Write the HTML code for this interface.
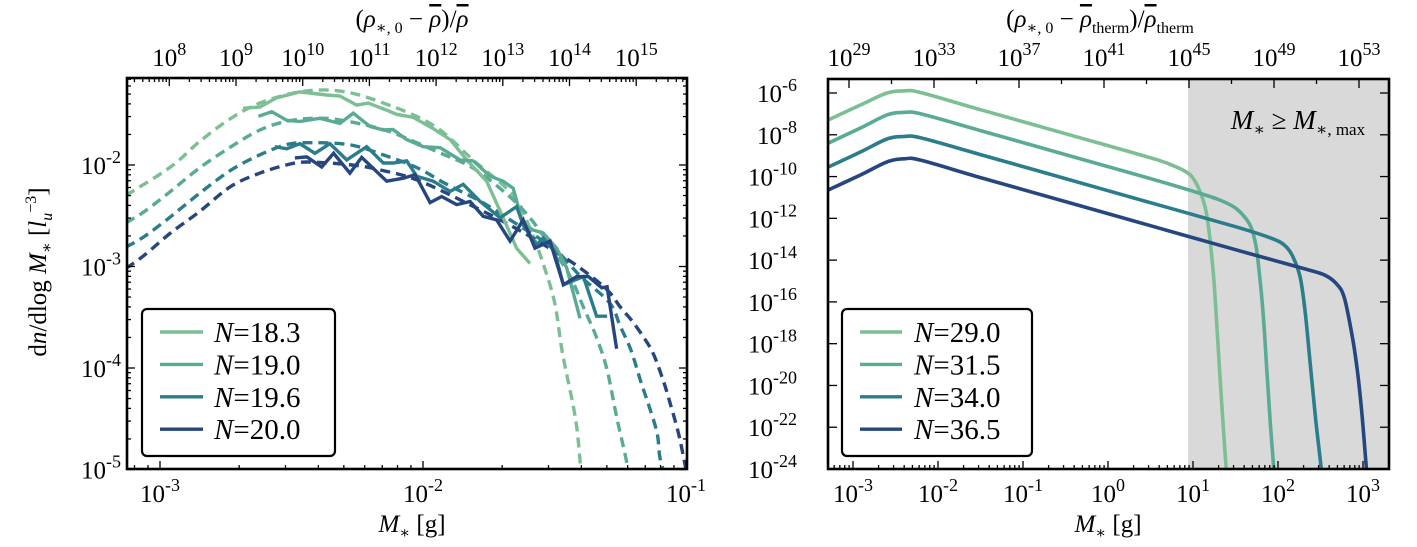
<!DOCTYPE html>
<html><head><meta charset="utf-8"><style>
html,body{margin:0;padding:0;background:#fff;}
svg{display:block;font-family:"Liberation Serif","DejaVu Serif",serif;}
</style></head><body>
<svg id="fig" width="1417" height="547" viewBox="0 0 1417 547" xmlns="http://www.w3.org/2000/svg">
<rect x="1188" y="79" width="201" height="390" fill="#d9d9d9"/>
<g id="left"></g>
<g id="right"></g>
<text x="1298" y="129" font-size="27" text-anchor="middle"><tspan font-style="italic">M</tspan><tspan font-size="17" dy="6">∗</tspan><tspan dy="-6"> ≥ </tspan><tspan font-style="italic">M</tspan><tspan font-size="17" dy="6">∗, max</tspan></text>
<text x="412" y="27" font-size="25" text-anchor="middle">(<tspan font-style="italic">ρ</tspan><tspan font-size="16" dy="6">∗, 0</tspan><tspan dy="-6"> − </tspan><tspan font-style="italic" text-decoration="overline">ρ</tspan>)/<tspan font-style="italic" text-decoration="overline">ρ</tspan></text>
<text x="1100" y="27" font-size="25" text-anchor="middle">(<tspan font-style="italic">ρ</tspan><tspan font-size="16" dy="6">∗, 0</tspan><tspan dy="-6"> − </tspan><tspan font-style="italic" text-decoration="overline">ρ</tspan><tspan font-size="16" dy="6">therm</tspan><tspan dy="-6">)/</tspan><tspan font-style="italic" text-decoration="overline">ρ</tspan><tspan font-size="16" dy="6">therm</tspan></text>
<text x="412" y="532" font-size="25" text-anchor="middle"><tspan font-style="italic">M</tspan><tspan font-size="16" dy="6">∗</tspan><tspan dy="-6"> [g]</tspan></text>
<text x="1108" y="532" font-size="25" text-anchor="middle"><tspan font-style="italic">M</tspan><tspan font-size="16" dy="6">∗</tspan><tspan dy="-6"> [g]</tspan></text>
<text transform="translate(46,272) rotate(-90)" font-size="25" text-anchor="middle">d<tspan font-style="italic">n</tspan>/dlog <tspan font-style="italic">M</tspan><tspan font-size="16" dy="6">∗</tspan><tspan dy="-6">  [</tspan><tspan font-style="italic">l</tspan><tspan font-size="16" dy="6" font-style="italic">u</tspan><tspan font-size="16" dy="-16">−3</tspan><tspan dy="10">]</tspan></text>
</svg>
<script>
// ---------- LEFT PANEL DATA (log10 values) ----------
const leftLabels = ["18.3","19.0","19.6","20.0"];
const colors = ["#7dbf94","#5aab95","#2b7d8c","#26467f"];
const simX1 = [-2.684,-2.62,-2.558,-2.468,-2.366,-2.316,-2.252,-2.208,-2.138,-2.10,-2.038,-1.962,-1.897,-1.834,-1.758,-1.695,-1.644,-1.593];
const simY1 = [-1.44,-1.43,-1.34,-1.28,-1.31,-1.32,-1.41,-1.39,-1.46,-1.50,-1.53,-1.64,-1.75,-1.95,-2.16,-2.52,-2.82,-2.97];
const simX2 = [-2.626,-2.575,-2.518,-2.468,-2.392,-2.316,-2.265,-2.202,-2.151,-2.114,-2.062,-1.999,-1.935,-1.859,-1.809,-1.745,-1.695,-1.657,-1.619,-1.581,-1.543,-1.492,-1.454,-1.403];
const simY2 = [-1.52,-1.475,-1.56,-1.57,-1.54,-1.59,-1.49,-1.62,-1.655,-1.65,-1.75,-1.82,-1.83,-1.95,-1.96,-2.11,-2.16,-2.23,-2.59,-2.64,-2.67,-2.82,-3.01,-3.51];
const simX3 = [-2.563,-2.518,-2.468,-2.411,-2.354,-2.29,-2.214,-2.151,-2.113,-2.062,-2.024,-1.961,-1.897,-1.847,-1.783,-1.707,-1.644,-1.619,-1.568,-1.543,-1.50,-1.466,-1.39,-1.34,-1.30];
const simY3 = [-1.82,-1.84,-1.79,-1.885,-1.79,-1.95,-1.82,-1.98,-1.98,-1.96,-2.11,-2.16,-2.26,-2.19,-2.36,-2.52,-2.41,-2.59,-2.785,-2.72,-2.85,-3.18,-3.10,-3.49,-3.49];
const simX4 = [-2.487,-2.442,-2.385,-2.34,-2.278,-2.233,-2.138,-2.075,-2.03,-1.973,-1.929,-1.872,-1.821,-1.771,-1.72,-1.669,-1.619,-1.574,-1.517,-1.466,-1.416,-1.371,-1.32,-1.30,-1.264];
const simY4 = [-1.93,-1.92,-2.02,-1.885,-2.08,-1.925,-2.16,-2.13,-2.095,-2.37,-2.31,-2.39,-2.36,-2.505,-2.54,-2.75,-2.54,-2.82,-2.75,-3.18,-3.10,-3.10,-3.21,-3.20,-3.81];
const fitX1 = [-3.13,-2.96,-2.85,-2.73,-2.62,-2.47,-2.32,-2.16,-1.96,-1.81,-1.66,-1.60,-1.55,-1.50,-1.47,-1.42,-1.40];
const fitY1 = [-2.30,-2.02,-1.77,-1.54,-1.39,-1.28,-1.27,-1.38,-1.61,-1.95,-2.29,-2.58,-2.92,-3.35,-3.85,-4.5,-5.0];
const fitX2 = [-3.13,-3.06,-2.96,-2.85,-2.73,-2.62,-2.52,-2.42,-2.32,-2.14,-1.95,-1.81,-1.68,-1.60,-1.52,-1.44,-1.39,-1.34,-1.30,-1.264,-1.23,-1.222];
const fitY2 = [-2.57,-2.46,-2.26,-2.03,-1.82,-1.655,-1.57,-1.54,-1.555,-1.66,-1.865,-2.03,-2.29,-2.5,-2.78,-3.1,-3.4,-3.7,-4.02,-4.48,-4.87,-5.0];
const fitX3 = [-3.13,-3.06,-2.96,-2.85,-2.73,-2.62,-2.52,-2.44,-2.28,-2.14,-2.02,-1.91,-1.78,-1.66,-1.50,-1.40,-1.29,-1.25,-1.21,-1.17,-1.14,-1.11,-1.10,-1.087];
const fitY3 = [-2.81,-2.705,-2.51,-2.28,-2.05,-1.90,-1.80,-1.78,-1.80,-1.91,-2.03,-2.19,-2.36,-2.555,-2.83,-3.1,-3.36,-3.59,-3.82,-4.15,-4.38,-4.64,-4.87,-5.0];
const fitX4 = [-3.13,-3.06,-2.96,-2.85,-2.73,-2.62,-2.52,-2.44,-2.27,-2.16,-2.02,-1.83,-1.65,-1.50,-1.40,-1.30,-1.25,-1.207,-1.163,-1.125,-1.087,-1.06,-1.029,-1.01,-1.0];
const fitY4 = [-3.02,-2.89,-2.67,-2.46,-2.21,-2.08,-2.0,-1.97,-2.0,-2.05,-2.15,-2.38,-2.62,-2.85,-3.02,-3.23,-3.40,-3.53,-3.69,-3.855,-4.12,-4.35,-4.64,-4.87,-5.0];
const leftYTicks = [-2,-3,-4,-5];
const leftXTicks = [-3,-2,-1];
const leftTopTicks = [8,9,10,11,12,13,14,15];

// ---------- RIGHT PANEL DATA (log10 values) ----------
const rightLabels = ["29.0","31.5","34.0","36.5"];
const curX1 = [-3.29,-2.9,-2.6,-2.4,-2.2,-1.5,-0.5,0.5,0.75,0.94,1.02,1.09,1.15,1.2,1.25,1.29,1.34,1.39];
const curY1 = [-7.29,-6.55,-6.0,-5.9,-5.98,-6.8,-7.95,-9.1,-9.45,-9.83,-10.2,-10.8,-11.6,-13.0,-15.2,-17.8,-21,-24];
const curX2 = [-3.29,-2.9,-2.6,-2.4,-2.2,-1.5,-0.5,0.5,1.0,1.3,1.48,1.6,1.68,1.74,1.78,1.83,1.87,1.91,1.95];
const curY2 = [-8.4,-7.65,-7.05,-6.93,-7.0,-7.8,-8.95,-10.1,-10.7,-11.1,-11.45,-11.9,-12.4,-13.3,-14.6,-16.8,-19.4,-21.8,-24];
const curX3 = [-3.29,-2.9,-2.6,-2.4,-2.2,-1.5,-0.5,0.5,1.5,1.92,2.08,2.17,2.26,2.32,2.38,2.44,2.51];
const curY3 = [-9.54,-8.8,-8.2,-8.08,-8.15,-8.95,-10.1,-11.25,-12.4,-12.95,-13.3,-13.8,-14.8,-16.5,-19,-21.5,-24];
const curX4 = [-3.29,-2.9,-2.6,-2.4,-2.2,-1.5,-0.5,0.5,1.5,2.3,2.54,2.68,2.78,2.88,2.94,2.99,3.04];
const curY4 = [-10.64,-9.9,-9.3,-9.15,-9.22,-10.05,-11.2,-12.35,-13.5,-14.4,-14.7,-15.1,-15.8,-17.8,-19.5,-21.5,-24];
const rightYTicks = [-6,-8,-10,-12,-14,-16,-18,-20,-22,-24];
const rightXTicks = [-3,-2,-1,0,1,2,3];
const rightTopTicks = [29,33,37,41,45,49,53];

const NS = "http://www.w3.org/2000/svg";
function mk(tag, attrs, parent){const e=document.createElementNS(NS,tag);for(const k in attrs)e.setAttribute(k,attrs[k]);parent.appendChild(e);return e;}

const L = {x0:127,x1:687,y0:78,y1:469, x:l=>423+(l+2)*263, y:l=>165+(-2-l)*101.5};
const R = {x0:828,x1:1389,y0:79,y1:469, x:l=>1193+(l-1)*85, y:l=>93+(-6-l)*20.89};
const Ltop = l=>169.3+(l-8)*66.7;
const Rtop = l=>849+(l-29)/4*85;

function clipFor(g, P, id){
  const d = mk("clipPath",{id:id},g);
  mk("rect",{x:P.x0,y:P.y0,width:P.x1-P.x0,height:P.y1-P.y0},d);
}
function smoothPath(pts){
  let d="M"+pts[0][0].toFixed(1)+","+pts[0][1].toFixed(1);
  for(let i=0;i<pts.length-1;i++){
    const p0=pts[Math.max(0,i-1)],p1=pts[i],p2=pts[i+1],p3=pts[Math.min(pts.length-1,i+2)];
    const c1=[p1[0]+(p2[0]-p0[0])/6,p1[1]+(p2[1]-p0[1])/6];
    const c2=[p2[0]-(p3[0]-p1[0])/6,p2[1]-(p3[1]-p1[1])/6];
    d+=" C"+c1[0].toFixed(1)+","+c1[1].toFixed(1)+" "+c2[0].toFixed(1)+","+c2[1].toFixed(1)+" "+p2[0].toFixed(1)+","+p2[1].toFixed(1);
  }
  return d;
}
function polyPath(pts){return "M"+pts.map(p=>p[0].toFixed(1)+","+p[1].toFixed(1)).join(" L");}
function sup(parent, x, y, base, exp, size, anchor){
  const t=mk("text",{x:x,y:y,"font-size":size,"text-anchor":anchor},parent);
  t.textContent=base;
  const s=document.createElementNS(NS,"tspan");
  s.setAttribute("font-size",Math.round(size*0.7));
  s.setAttribute("dy",-Math.round(size*0.42));
  s.textContent=exp;
  t.appendChild(s);
  return t;
}

// ---------- LEFT PANEL ----------
const lg = document.getElementById("left");
clipFor(lg, L, "clipL");
const lc = mk("g",{"clip-path":"url(#clipL)"},lg);


const fitsX=[fitX1,fitX2,fitX3,fitX4], fitsY=[fitY1,fitY2,fitY3,fitY4];
const simsX=[simX1,simX2,simX3,simX4], simsY=[simY1,simY2,simY3,simY4];
for(let s=0;s<4;s++){
  const pts=fitsX[s].map((v,i)=>[L.x(v),L.y(fitsY[s][i])]);
  const p=mk("path",{d:smoothPath(pts),fill:"none",stroke:colors[s],"stroke-width":3.4,"stroke-dasharray":"10,6"},lc);
  
  
}
for(let s=0;s<4;s++){
  const pts=simsX[s].map((v,i)=>[L.x(v),L.y(simsY[s][i])]);
  const p=mk("path",{d:polyPath(pts),fill:"none",stroke:colors[s],"stroke-width":3.4,"stroke-linejoin":"miter"},lc);
  
  
}
const lt = mk("g",{stroke:"#000","stroke-width":1.3},lg);


for(let d=-4;d<=-1;d++){for(let m=1;m<10;m++){
  const l=d+Math.log10(m); if(l< -3.13||l>-1.0001&&!(m===1&&d===-1)) continue;
  const X=L.x(l); const len=m===1?8:4;
  mk("line",{x1:X,y1:L.y1,x2:X,y2:L.y1-len},lt);
}}
for(let d=-6;d<=-1;d++){for(let m=1;m<10;m++){
  const l=d+Math.log10(m); if(l< -5.001||l> -1.14) continue;
  const Y=L.y(l); const len=m===1?8:4;
  mk("line",{x1:L.x0,y1:Y,x2:L.x0+len,y2:Y},lt);
  mk("line",{x1:L.x1,y1:Y,x2:L.x1-len,y2:Y},lt);
}}
for(let d=7;d<=16;d++){for(let m=1;m<10;m++){
  const X=Ltop(d+Math.log10(m)); if(X<L.x0||X>L.x1) continue;
  const len=m===1?8:4;
  mk("line",{x1:X,y1:L.y0,x2:X,y2:L.y0+len},lt);
}}
mk("rect",{x:L.x0,y:L.y0,width:L.x1-L.x0,height:L.y1-L.y0,fill:"none",stroke:"#000","stroke-width":2.6},lg);
leftYTicks.forEach(v=>{const t=sup(lg,121,L.y(v)+9,"10",String(v),25,"end");});
leftXTicks.forEach(v=>{const t=sup(lg,L.x(v),502,"10",String(v),25,"middle");});
leftTopTicks.forEach(v=>{const t=sup(lg,Ltop(v),66,"10",String(v),25,"middle");});
const ll = mk("g",{},lg);


mk("rect",{x:142,y:309,width:193,height:147,rx:5,fill:"#fff",stroke:"#000","stroke-width":2.2},ll);
for(let s=0;s<4;s++){
  const y=332+s*32.4;
  const e=mk("g",{},ll);
  
  
  mk("line",{x1:160,y1:y,x2:203,y2:y,stroke:colors[s],"stroke-width":3.4},e);
  const t=mk("text",{x:214,y:y+10,"font-size":29},e);
  t.innerHTML='<tspan font-style="italic">N</tspan>=' + leftLabels[s];
}

// ---------- RIGHT PANEL ----------
const rg = document.getElementById("right");
clipFor(rg, R, "clipR");
const rc = mk("g",{"clip-path":"url(#clipR)"},rg);


const cX=[curX1,curX2,curX3,curX4], cY=[curY1,curY2,curY3,curY4];
for(let s=0;s<4;s++){
  const pts=cX[s].map((v,i)=>[R.x(v),R.y(cY[s][i])]);
  const p=mk("path",{d:smoothPath(pts),fill:"none",stroke:colors[s],"stroke-width":3.6},rc);
  
  
}
const rt = mk("g",{stroke:"#000","stroke-width":1.3},rg);


for(let d=-4;d<=3;d++){for(let m=1;m<10;m++){
  const X=R.x(d+Math.log10(m)); if(X<R.x0||X>R.x1) continue;
  const len=m===1?8:4;
  mk("line",{x1:X,y1:R.y1,x2:X,y2:R.y1-len},rt);
}}
rightYTicks.forEach(v=>{const Y=R.y(v);
  mk("line",{x1:R.x0,y1:Y,x2:R.x0+9,y2:Y},rt);
  mk("line",{x1:R.x1,y1:Y,x2:R.x1-9,y2:Y},rt);});
for(let v=27;v<=55;v+=2){const X=Rtop(v); if(X<R.x0||X>R.x1) continue;
  mk("line",{x1:X,y1:R.y0,x2:X,y2:R.y0+((v-29)%4===0?9:5)},rt);}
mk("rect",{x:R.x0,y:R.y0,width:R.x1-R.x0,height:R.y1-R.y0,fill:"none",stroke:"#000","stroke-width":2.6},rg);
rightYTicks.forEach(v=>{const t=sup(rg,797,R.y(v)+9,"10",String(v),25,"end");});
rightXTicks.forEach(v=>{const t=sup(rg,R.x(v),502,"10",String(v),25,"middle");});
rightTopTicks.forEach(v=>{const t=sup(rg,Rtop(v),66,"10",String(v),25,"middle");});
const rl = mk("g",{},rg);


mk("rect",{x:842,y:309,width:190,height:147,rx:5,fill:"#fff",stroke:"#000","stroke-width":2.2},rl);
for(let s=0;s<4;s++){
  const y=332+s*32.4;
  const e=mk("g",{},rl);
  
  
  mk("line",{x1:860,y1:y,x2:902,y2:y,stroke:colors[s],"stroke-width":3.4},e);
  const t=mk("text",{x:914,y:y+10,"font-size":29},e);
  t.innerHTML='<tspan font-style="italic">N</tspan>=' + rightLabels[s];
}
</script>
</body></html>
